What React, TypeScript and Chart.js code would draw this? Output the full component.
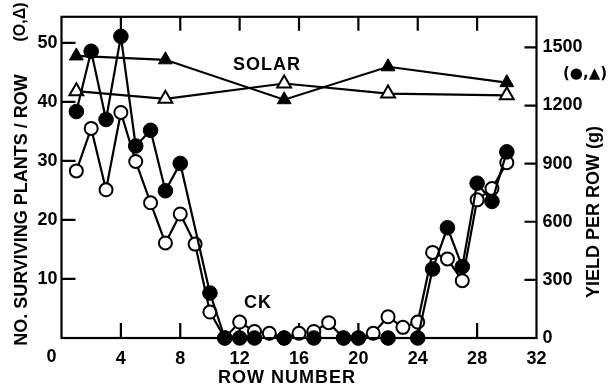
import React, { useEffect, useRef } from 'react';
import { Chart, registerables } from 'chart.js';

Chart.register(...registerables);

// Row numbers
const plantRows = [1, 2, 3, 4, 5, 6, 7, 8, 9, 10, 11, 12, 13, 14, 15, 16, 17, 18, 19, 20, 21, 22, 23, 24, 25, 26, 27, 28, 29, 30];
// CK: surviving plants per row (open circles, left axis)
const ckPlants = [28.3, 35.5, 25.1, 38.2, 29.9, 22.9, 16.1, 21.0, 15.9, 4.4, 0, 2.7, 1.1, 0.8, 0, 0.8, 1.1, 2.6, 0, 0, 0.8, 3.6, 1.8, 2.7, 14.5, 13.4, 9.7, 23.4, 25.3, 29.7];
// CK: yield per row, g (filled circles, right axis)
const yieldRows = [1, 2, 3, 4, 5, 6, 7, 8, 10, 11, 12, 13, 15, 17, 19, 20, 22, 24, 25, 26, 27, 28, 29, 30];
const ckYield = [1169, 1480, 1128, 1557, 991, 1072, 760, 901, 232, 0, 0, 0, 0, 0, 0, 0, 0, 0, 356, 569, 368, 799, 705, 961];
// SOLAR
const solarRows = [1, 7, 15, 22, 30];
const solarPlants = [41.8, 40.5, 43.1, 41.4, 41.1];
const solarYield = [1456, 1436, 1230, 1400, 1318];
// Tick values
const xTickValues = [0, 4, 8, 12, 16, 20, 24, 28, 32];
const xTickMarks = [4, 8, 12, 16, 20, 24, 28];
const leftTickValues = [10, 20, 30, 40, 50];
const rightTickValues = [0, 300, 600, 900, 1200, 1500];

const FONT = '"Liberation Sans", Arial, sans-serif';
const WEIGHT = 'bold';

const pts = (xs: number[], ys: number[]) => xs.map((x, i) => ({ x, y: ys[i] }));

export default function App() {
  const ref = useRef<HTMLCanvasElement | null>(null);
  useEffect(() => {
    if (!ref.current) return;
    const framePlugin = {
      id: 'frame',
      beforeDatasetsDraw(chart: any) {
        const { ctx, chartArea: a, scales } = chart;
        ctx.save();
        ctx.strokeStyle = '#000';
        ctx.lineWidth = 2.2;
        ctx.strokeRect(a.left, a.top, a.right - a.left, a.bottom - a.top);
        ctx.beginPath();
        xTickMarks.forEach((v) => {
          const x = scales.x.getPixelForValue(v);
          ctx.moveTo(x, a.bottom);
          ctx.lineTo(x, a.bottom - 15);
          ctx.moveTo(x, a.top);
          ctx.lineTo(x, a.top + 14);
        });
        leftTickValues.forEach((v) => {
          const y = scales.yL.getPixelForValue(v);
          ctx.moveTo(a.left, y);
          ctx.lineTo(a.left + 14, y);
        });
        rightTickValues.filter((v) => v > 0).forEach((v) => {
          const y = scales.yR.getPixelForValue(v);
          ctx.moveTo(a.right, y);
          ctx.lineTo(a.right - 12, y);
        });
        ctx.stroke();
        ctx.restore();
      },
      afterDraw(chart: any) {
        const { ctx, scales } = chart;
        ctx.save();
        ctx.fillStyle = '#000';
        ctx.textAlign = 'center';
        ctx.textBaseline = 'middle';
        ctx.font = `${WEIGHT} 18px ${FONT}`;
        // x "0" label at corner
        ctx.fillText('0', scales.x.getPixelForValue(0) - 10, 357);
        (ctx as any).letterSpacing = '1px';
        ctx.fillText('ROW NUMBER', 287, 378);
        ctx.fillText('SOLAR', 267, 65);
        ctx.fillText('CK', 258, 303);
        (ctx as any).letterSpacing = '0px';
        // left title
        ctx.save();
        ctx.translate(22, 210);
        ctx.rotate(-Math.PI / 2);
        ctx.fillText('NO. SURVIVING PLANTS / ROW', 0, 0);
        ctx.restore();
        ctx.save();
        ctx.translate(21, 22);
        ctx.rotate(-Math.PI / 2);
        ctx.font = `${WEIGHT} 16px ${FONT}`;
        ctx.fillText('(O,Δ)', 0, 0);
        ctx.restore();
        // right title
        ctx.save();
        ctx.translate(594, 212);
        ctx.rotate(-Math.PI / 2);
        ctx.fillText('YIELD PER ROW (g)', 0, 0);
        ctx.restore();
        ctx.font = `bold 15px "DejaVu Sans", sans-serif`;
        ctx.fillText('(●,▲)', 585, 74);
        ctx.restore();
      },
    };

    const tickFont = { family: FONT, size: 18, weight: WEIGHT as any };

    const chart = new Chart(ref.current, {
      type: 'line',
      data: {
        datasets: [
          {
            label: 'CK yield',
            data: pts(yieldRows, ckYield),
            yAxisID: 'yR',
            borderColor: '#000',
            borderWidth: 2.2,
            pointStyle: 'circle',
            pointRadius: 7.3,
            pointBackgroundColor: '#000',
            pointBorderColor: '#000',
            pointBorderWidth: 1,
            tension: 0,
            clip: false,
            order: 0,
          },
          {
            label: 'CK plants',
            data: pts(plantRows, ckPlants),
            yAxisID: 'yL',
            borderColor: '#000',
            borderWidth: 2.2,
            pointStyle: 'circle',
            pointRadius: 6.5,
            pointBackgroundColor: '#fff',
            pointBorderColor: '#000',
            pointBorderWidth: 2,
            tension: 0,
            clip: false,
            order: 1,
          },
          {
            label: 'SOLAR yield',
            data: pts(solarRows, solarYield),
            yAxisID: 'yR',
            borderColor: '#000',
            borderWidth: 2.2,
            pointStyle: 'triangle',
            pointRadius: 8,
            pointBackgroundColor: '#000',
            pointBorderColor: '#000',
            pointBorderWidth: 1,
            tension: 0,
            clip: false,
            order: 2,
          },
          {
            label: 'SOLAR plants',
            data: pts(solarRows, solarPlants),
            yAxisID: 'yL',
            borderColor: '#000',
            borderWidth: 2.2,
            pointStyle: 'triangle',
            pointRadius: 8,
            pointBackgroundColor: '#fff',
            pointBorderColor: '#000',
            pointBorderWidth: 2,
            tension: 0,
            clip: false,
            order: 3,
          },
        ],
      },
      options: {
        responsive: false,
        animation: false,
        layout: { padding: { top: 13.5, left: 0, right: 0, bottom: 0 } },
        plugins: { legend: { display: false }, tooltip: { enabled: false } },
        scales: {
          x: {
            type: 'linear',
            position: 'bottom',
            min: 0,
            max: 32,
            grid: { display: false, drawTicks: false },
            border: { display: false },
            afterFit: (s: any) => { s.height = 49; },
            ticks: {
              stepSize: 4,
              padding: 10,
              color: '#000',
              font: tickFont,
              maxRotation: 0,
              autoSkip: false,
              callback: (v: any) => (xTickValues.includes(v) && v !== 0 ? String(v) : ''),
            },
          },
          yL: {
            type: 'linear',
            position: 'left',
            min: 0,
            max: 54.4,
            grid: { display: false, drawTicks: false },
            border: { display: false },
            afterFit: (s: any) => { s.width = 61.5; },
            ticks: {
              stepSize: 10,
              includeBounds: false,
              padding: 4,
              color: '#000',
              font: tickFont,
              callback: (v: any) => (leftTickValues.includes(v) ? String(v) : ''),
            },
          },
          yR: {
            type: 'linear',
            position: 'right',
            min: 0,
            max: 1658,
            grid: { display: false, drawTicks: false },
            border: { display: false },
            afterFit: (s: any) => { s.width = 75.5; },
            ticks: {
              stepSize: 300,
              includeBounds: false,
              padding: 6,
              color: '#000',
              font: tickFont,
              callback: (v: any) => (rightTickValues.includes(v) ? String(v) : ''),
            },
          },
        },
      },
      plugins: [framePlugin],
    });
    return () => chart.destroy();
  }, []);

  return (
    <div style={{ position: 'fixed', left: 0, top: 0, width: 612, height: 387, background: '#fff' }}>
      <canvas ref={ref} width={612} height={387} />
    </div>
  );
}
